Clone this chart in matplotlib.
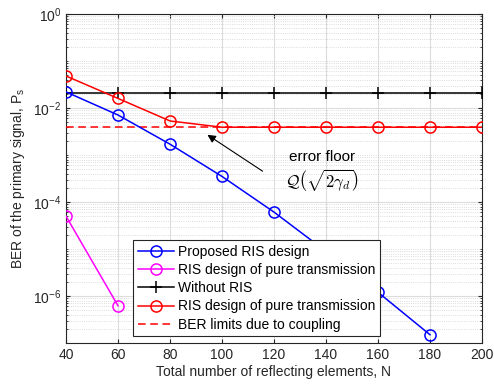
import numpy as np
import matplotlib.pyplot as plt
from matplotlib.ticker import LogLocator, FixedLocator, NullFormatter

plt.rcParams['font.family'] = ['Liberation Sans', 'DejaVu Sans']
plt.rcParams['mathtext.fontset'] = 'cm'

N = [40, 60, 80, 100, 120, 140, 160, 180, 200]
proposed = [0.022, 0.0071, 0.0017, 3.5e-4, 6.1e-5, 8.9e-6, 1.2e-6, 1.5e-7]
pure_trans_mag = [5e-5, 6.2e-7]
without_ris = [0.021] * 9
pure_trans_red = [0.048, 0.016, 0.0053, 0.0039, 0.0039, 0.0039, 0.0039, 0.0039, 0.0039]
ber_limit = [0.0039] * 9

fig = plt.figure(figsize=(4.94, 3.86), dpi=100)
ax = fig.add_axes([0.1336, 0.1114, 0.8421, 0.8523])

lw = 1.1
ms = 8
ax.plot(N[:len(proposed)], proposed, color='#0000ff', lw=lw, marker='o', ms=ms,
        mfc='none', mew=1.1, label='Proposed RIS design', zorder=5)
ax.plot(N[:len(pure_trans_mag)], pure_trans_mag, color='#ff00ff', lw=lw, marker='o', ms=ms,
        mfc='none', mew=1.1, label='RIS design of pure transmission', zorder=5)
ax.plot(N, without_ris, color='black', lw=lw, marker='+', ms=9, mew=1.1,
        label='Without RIS', zorder=4)
ax.plot(N, pure_trans_red, color='#ff0000', lw=lw, marker='o', ms=ms,
        mfc='none', mew=1.1, label='RIS design of pure transmission', zorder=5)
ax.plot(N, ber_limit, color='#ff0000', lw=lw, ls=(0, (5, 3)),
        label='BER limits due to coupling', zorder=3)

ax.set_yscale('log')
ax.set_xlim(40, 200)
ax.set_ylim(1e-7, 1)
ax.set_xticks(N)
ax.yaxis.set_major_locator(FixedLocator([1e-6, 1e-4, 1e-2, 1e0]))
ax.yaxis.set_minor_locator(LogLocator(base=10, subs=np.arange(1, 10), numticks=20))
ax.yaxis.set_minor_formatter(NullFormatter())

ax.grid(True, which='major', color='#dcdcdc', lw=0.8)
ax.grid(True, which='minor', axis='y', color='#d0d0d0', lw=0.6, ls=':')
ax.set_axisbelow(True)
ax.tick_params(which='both', direction='in', top=True, right=True,
               labelsize=10, colors='#262626', length=3)
ax.tick_params(which='minor', length=1.5)
for sp in ax.spines.values():
    sp.set_color('#262626')
    sp.set_linewidth(0.8)

ax.set_xlabel('Total number of reflecting elements, N', fontsize=10, color='#262626', labelpad=2)
ax.set_ylabel('BER of the primary signal, P$_\\mathregular{s}$', fontsize=10, color='#262626', labelpad=4)

ax.annotate('', xy=(93.5, 0.0029), xytext=(116.5, 4.2e-4),
            arrowprops=dict(arrowstyle='-|>', color='black', lw=0.8, mutation_scale=12))
ax.text(138.5, 9.1e-4, 'error floor', fontsize=11, ha='center', va='center')
ax.text(138.5, 2.9e-4, r'$\mathcal{Q}\left(\sqrt{2\gamma_d}\right)$', fontsize=12,
        ha='center', va='center')

leg = ax.legend(loc='lower left', bbox_to_anchor=(0.161, 0.02), fontsize=10,
                frameon=True, fancybox=False, edgecolor='#262626', framealpha=1,
                handlelength=2.6, handletextpad=0.3, borderpad=0.35, labelspacing=0.3,
                borderaxespad=0)
leg.get_frame().set_linewidth(0.8)

fig.savefig('out.png', dpi=100)
